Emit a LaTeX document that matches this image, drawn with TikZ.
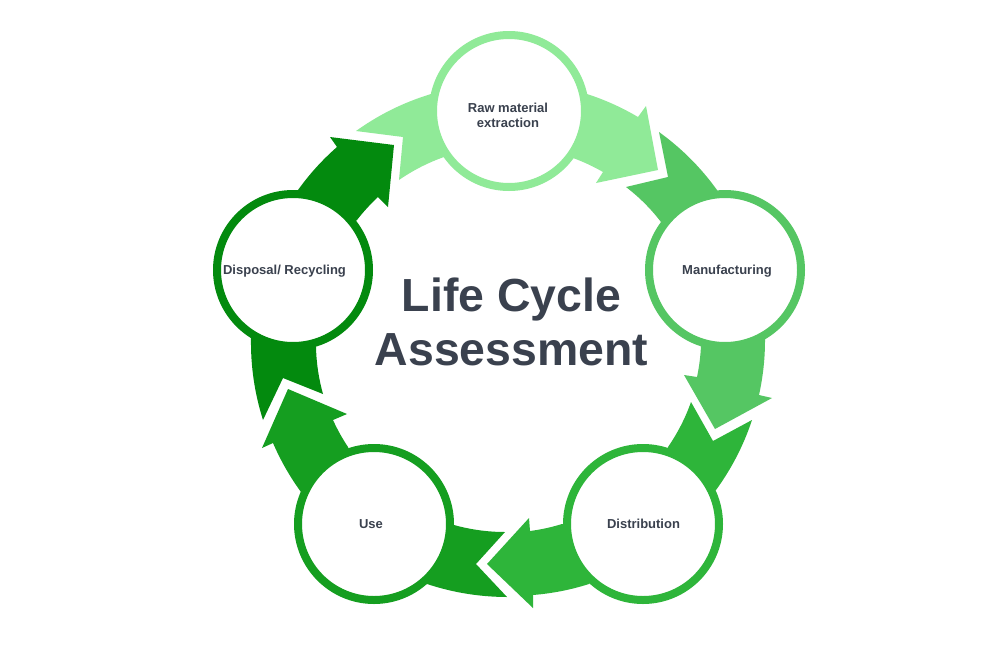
\documentclass[tikz,border=0pt]{standalone}
\usepackage{fontspec}
\setmainfont{Liberation Sans}
\definecolor{cRaw}{HTML}{90EA98}
\definecolor{cMan}{HTML}{55C663}
\definecolor{cDis}{HTML}{2EB53A}
\definecolor{cUse}{HTML}{159E20}
\definecolor{cRec}{HTML}{038A0E}
\definecolor{cTxt}{HTML}{3A414E}
\tikzset{
  stage/.style={circle,draw=#1,fill=white,line width=6pt,minimum size=114pt,inner sep=0pt},
  lab/.style={text=cTxt,font=\bfseries\fontsize{9.75}{11.4}\selectfont,align=center,inner sep=0pt},
  ttl/.style={text=cTxt,font=\bfseries\fontsize{34.8}{40.5}\selectfont,align=center,inner sep=0pt},
  arc/.style={bend left=#1,looseness=.87},
  carc/.style={bend right=#1,looseness=.87}
}
\begin{document}
\begin{tikzpicture}[x=.75pt,y=-.75pt]
\useasboundingbox[fill=white] (0,0) rectangle (1000,668);
\coordinate (raw) at (509,111);
\coordinate (man) at (725,270);
\coordinate (dis) at (643,524);
\coordinate (use) at (374,524);
\coordinate (rec) at (293,270);
% Raw -> Manufacturing
\fill[cRaw] (raw) -- (587,94) to[arc=6.2] (638,117) -- (646,106) -- (658,170) -- (596,183) -- (603,172) to[carc=4.9] (573,158) -- cycle;
% Raw, incoming side
\fill[cRaw] (raw) -- (444,157) to[carc=7.5] (399,180) -- (403,137) -- (356,131) to[arc=9.3] (431,94) -- cycle;
% Manufacturing, incoming side
\fill[cMan] (man) -- (661,222) to[carc=7.4] (626,187) -- (668,177) -- (659,132) to[arc=9.2] (717,190) -- cycle;
% Manufacturing -> Distribution
\fill[cMan] (man) -- (765,338) to[arc=6.4] (759,395) -- (772,398) -- (715,429) -- (684,375) -- (697,377) to[carc=4.8] (701,345) -- cycle;
% Distribution, incoming side
\fill[cDis] (dis) -- (668,447) to[carc=7.5] (691,402) -- (713,441) -- (752,420) to[arc=8.8] (716,490) -- cycle;
% Distribution -> Use
\fill[cDis] (dis) -- (589,584) to[arc=6.4] (533,595) -- (533,608) -- (487,564) -- (529,518) -- (530,531) to[carc=4.9] (562,524) -- cycle;
% Use, incoming side
\fill[cUse] (use) -- (454,525) to[carc=7.7] (505,532) -- (476,564) -- (507,597) to[arc=9] (427,584) -- cycle;
% Use -> Disposal
\fill[cUse] (use) -- (301,492) to[arc=6.3] (273,443) -- (262,448) -- (288,389) -- (347,414) -- (333,420) to[carc=4.6] (348,447) -- cycle;
% Disposal, incoming side
\fill[cRec] (rec) -- (316,347) to[carc=7.1] (323,394) -- (283,378) -- (263,420) to[arc=9.2] (251,338) -- cycle;
% Disposal -> Raw
\fill[cRec] (rec) -- (298,190) to[arc=6.5] (337,147) -- (330,137) -- (394,145) -- (388,207) -- (378,197) to[carc=4.6] (357,220) -- cycle;
% Stages
\node[stage=cRaw] (nraw) at (raw) {};
\node[stage=cMan] (nman) at (man) {};
\node[stage=cDis] (ndis) at (dis) {};
\node[stage=cUse] (nuse) at (use) {};
\node[stage=cRec] (nrec) at (rec) {};
\node[lab] (traw) at (508,115) {Raw material\\extraction};
\node[lab] (tman) at (727,271.5) {Manufacturing};
\node[lab] (tdis) at (643.5,524) {Distribution};
\node[lab] (tuse) at (371,524) {Use};
\node[lab] (trec) at (284.5,271.5) {Disposal/ Recycling};
\node[ttl] (title) at (511.5,322) {Life Cycle\\Assessment};
\end{tikzpicture}
\end{document}
